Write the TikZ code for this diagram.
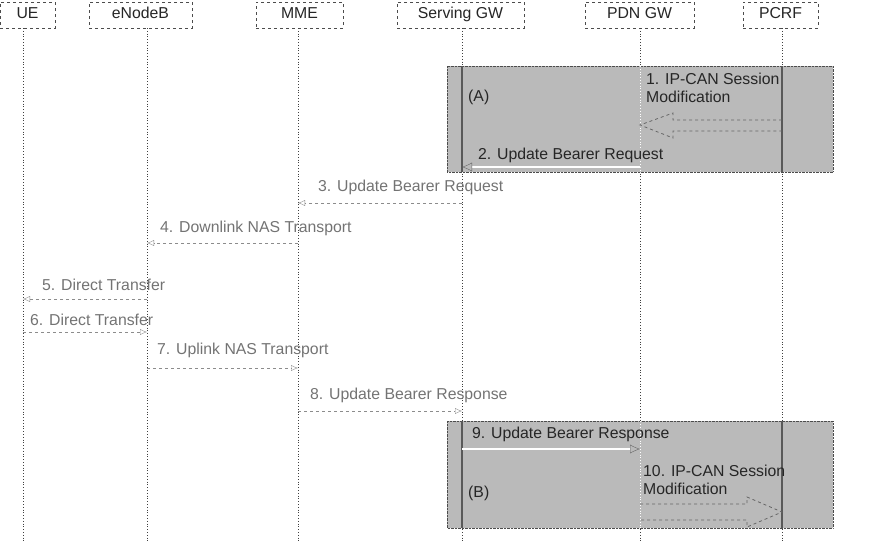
\documentclass[tikz,border=0pt]{standalone}
\usepackage{fontspec}
\setmainfont{Liberation Sans}
\usetikzlibrary{arrows.meta}
\newcommand{\seqfont}{\fontsize{15.8}{17.5}\selectfont}
\tikzset{
  entity/.style={draw=black!70, dashed, fill=white, minimum height=26pt, inner sep=0pt, text height=11pt, text depth=5pt, font=\seqfont, text=black!85},
  lifeline/.style={black!75, dotted, line width=0.8pt},
  phase/.style={fill=black!27, draw=black!70, densely dotted},
  msg/.style={draw=black!45, dashed, -{Latex[open,length=7pt,width=6pt]}},
  boldmsg/.style={draw=black!60, double=white, double distance=1.4pt, -{Latex[open,length=10pt,width=9pt]}},
  msgtext/.style={anchor=west, inner sep=0pt, font=\seqfont, text=black!55},
  boxtext/.style={anchor=west, inner sep=0pt, font=\seqfont, text=black!85, align=left},
  blockarrow/.style={draw=black!60, dashed, line width=0.8pt}
}
\begin{document}
\begin{tikzpicture}[x=1pt, y=-1pt]
    \useasboundingbox (0,0) rectangle (873,541);
    \coordinate (bottom) at (0,541);
    % entities
    \node[entity, minimum width=55pt] (ue) at (27.5,15) {UE};
    \node[entity, minimum width=103pt] (enb) at (140.5,15) {eNodeB};
    \node[entity, minimum width=87pt] (mme) at (299.5,15) {MME};
    \node[entity, minimum width=127pt] (sgw) at (460.5,15) {Serving GW};
    \node[entity, minimum width=109pt] (pdn) at (639.5,15) {PDN GW};
    \node[entity, minimum width=75pt] (pcrf) at (780.5,15) {PCRF};
    \coordinate (ueL) at (23,28);
    \coordinate (enbL) at (147,28);
    \coordinate (mmeL) at (298,28);
    \coordinate (sgwL) at (462,28);
    \coordinate (pdnL) at (640,28);
    \coordinate (pcrfL) at (782,28);
    \draw[lifeline] (ueL) -- (ueL |- bottom);
    \draw[lifeline] (enbL) -- (enbL |- bottom);
    \draw[lifeline] (mmeL) -- (mmeL |- bottom);
    \draw[lifeline] (sgwL) -- (sgwL |- bottom);
    \draw[lifeline] (pdnL) -- (pdnL |- bottom);
    \draw[lifeline] (pcrfL) -- (pcrfL |- bottom);
    % shaded phases
    \draw[phase] (447,66) rectangle (833,172);
    \draw[phase] (447,421) rectangle (833,528);
    \coordinate (aTop) at (0,66);
    \coordinate (aBot) at (0,172);
    \coordinate (bTop) at (0,421);
    \coordinate (bBot) at (0,528);
    \draw[black!65, line width=1.2pt] (sgwL |- aTop) -- (sgwL |- aBot);
    \draw[black!65, line width=1.2pt] (pcrfL |- aTop) -- (pcrfL |- aBot);
    \draw[black!65, line width=1.2pt] (sgwL |- bTop) -- (sgwL |- bBot);
    \draw[black!65, line width=1.2pt] (pcrfL |- bTop) -- (pcrfL |- bBot);
    \draw[white, dotted, line width=0.8pt] (pdnL |- aTop) -- (pdnL |- aBot);
    \draw[white, dotted, line width=0.8pt] (pdnL |- bTop) -- (pdnL |- bBot);
    % (A)
    \node[boxtext] (phA) at (468,97) {(A)};
    \node[boxtext, anchor=north west] (t1) at (646,73) {1. IP-CAN Session\\Modification};
    \draw[blockarrow] (782,120) -- (673,120) -- (673,113) -- (640,125) -- (673,138) -- (673,131) -- (782,131);
    \node[boxtext] (t2) at (478,155) {2. Update Bearer Request};
    \coordinate (m2) at (0,167);
    \draw[boldmsg] (pdnL |- m2) -- (sgwL |- m2);
    % messages
    \node[msgtext] (t3) at (318,187) {3. Update Bearer Request};
    \coordinate (m3) at (0,203);
    \draw[msg] (sgwL |- m3) -- (mmeL |- m3);
    \node[msgtext] (t4) at (160,228) {4. Downlink NAS Transport};
    \coordinate (m4) at (0,243);
    \draw[msg] (mmeL |- m4) -- (enbL |- m4);
    \node[msgtext] (t5) at (42,285) {5. Direct Transfer};
    \coordinate (m5) at (0,299);
    \draw[msg] (enbL |- m5) -- (ueL |- m5);
    \node[msgtext] (t6) at (30,320) {6. Direct Transfer};
    \coordinate (m6) at (0,332);
    \draw[msg] (ueL |- m6) -- (enbL |- m6);
    \node[msgtext] (t7) at (157,350) {7. Uplink NAS Transport};
    \coordinate (m7) at (0,368);
    \draw[msg] (enbL |- m7) -- (mmeL |- m7);
    \node[msgtext] (t8) at (310,395) {8. Update Bearer Response};
    \coordinate (m8) at (0,411);
    \draw[msg] (mmeL |- m8) -- (sgwL |- m8);
    % (B)
    \node[boxtext] (t9) at (472,434) {9. Update Bearer Response};
    \coordinate (m9) at (0,449);
    \draw[boldmsg] (sgwL |- m9) -- (pdnL |- m9);
    \node[boxtext, anchor=north west] (t10) at (643,465) {10. IP-CAN Session\\Modification};
    \node[boxtext] (phB) at (468,493) {(B)};
    \draw[blockarrow] (640,504) -- (747,504) -- (747,497) -- (782,512) -- (747,527) -- (747,520) -- (640,520);
\end{tikzpicture}
\end{document}
